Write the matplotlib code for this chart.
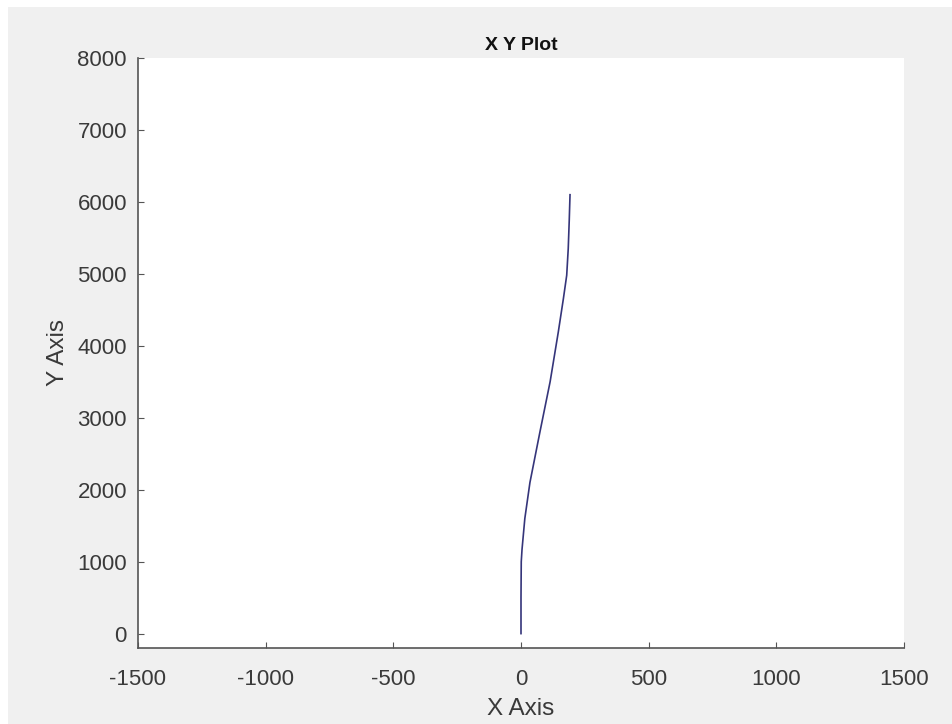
import numpy as np
import matplotlib
matplotlib.use("Agg")
import matplotlib.pyplot as plt
from matplotlib.patches import Rectangle

# 轨迹点
x_vals = [0, 0, 1, 4, 15, 35, 74, 114, 146, 166, 179, 185, 189, 192]
y_vals = [0, 500, 1000, 1170, 1600, 2100, 2800, 3500, 4190, 4655, 4980, 5350, 5750, 6100]

x_ticks = [-1500, -1000, -500, 0, 500, 1000, 1500]
y_ticks = [0, 1000, 2000, 3000, 4000, 5000, 6000, 7000, 8000]

plt.rcParams["font.family"] = ["Liberation Sans", "DejaVu Sans"]
plt.rcParams["axes.unicode_minus"] = False

fig = plt.figure(figsize=(9.53, 7.24), dpi=100, facecolor="white")
# 灰色背景（左、上留一条白边）
fig.patches.append(Rectangle((8 / 953, 0), 1, 1 - 7 / 724, transform=fig.transFigure,
                             facecolor="#f0f0f0", edgecolor="none", zorder=-1))

ax = fig.add_axes([138 / 953, 1 - 648 / 724, (904 - 138) / 953, (648 - 58) / 724])
ax.set_facecolor("white")

ax.plot(x_vals, y_vals, color="#35357a", linewidth=1.2)

ax.set_xlim(-1500, 1500)
ax.set_ylim(-200, 8000)
ax.set_xticks(x_ticks)
ax.set_yticks(y_ticks)
ax.tick_params(direction="in", length=4, colors="#555555", labelcolor="#3a3a3a",
               labelsize=16)
ax.tick_params(axis="x", pad=15)
ax.tick_params(axis="y", pad=8)

for side in ["top", "right"]:
    ax.spines[side].set_visible(False)
for side in ["left", "bottom"]:
    ax.spines[side].set_color("#555555")
    ax.spines[side].set_linewidth(1.2)

ax.set_xlabel("X Axis", fontsize=17.5, color="#3a3a3a", labelpad=6)
ax.set_ylabel("Y Axis", fontsize=17.5, color="#3a3a3a", labelpad=6)
ax.set_title("X Y Plot", fontsize=14, fontweight="bold", color="#111111", pad=6)

fig.savefig("out.png", dpi=100, facecolor=fig.get_facecolor())
